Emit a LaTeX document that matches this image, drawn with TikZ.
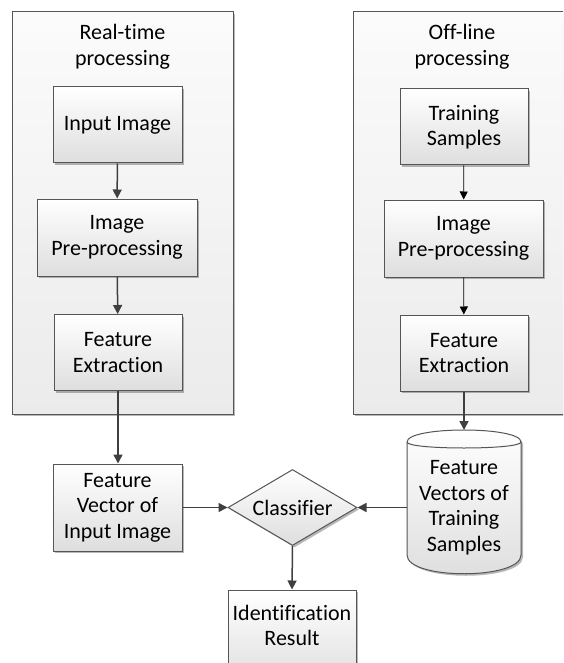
\documentclass[tikz,border=0pt]{standalone}
\usepackage{fontspec}
\setmainfont{Carlito}[Ligatures={NoCommon}]
\usetikzlibrary{arrows.meta,shadows,shapes.geometric}
\definecolor{edgec}{HTML}{555555}
\definecolor{arrc}{HTML}{3F3F3F}
\definecolor{boxbot}{HTML}{DEDEDE}
\definecolor{conttop}{HTML}{FBFBFB}
\definecolor{contbot}{HTML}{EBEBEB}
\begin{document}
\begin{tikzpicture}[x=1pt,y=-1pt,
  every node/.style={font=\fontsize{22}{25.5}\selectfont},
  shad/.style={drop shadow={shadow xshift=2pt,shadow yshift=-2pt,fill=black,opacity=.28}},
  container/.style={draw=edgec,line width=1pt,top color=conttop,bottom color=contbot,shad},
  title/.style={align=center,inner sep=0pt},
  box/.style={draw=edgec,line width=1pt,top color=white,bottom color=boxbot,
    align=center,inner sep=0pt,shad},
  plain/.style={align=center,inner sep=0pt},
  thickarr/.style={draw=arrc,line width=1.5pt,-{Triangle[length=9pt,width=9pt]}},
  thinarr/.style={draw=black,line width=0.8pt,-{Triangle[length=8pt,width=8pt]}},
]
\useasboundingbox (0,0) rectangle (563,663);
\clip (0,0) rectangle (563,663);

% containers
\path[container] (12,12) rectangle (233,414);
\path[container] (353,12) rectangle (580,414);
\node[title] (rtt) at (122.5,47) {Real-time\\processing};
\node[title] (olt) at (462,47) {Off-line\\processing};

% left column
\node[box,minimum width=129pt,minimum height=76pt] (inp) at (117.5,125) {Input Image};
\node[box,minimum width=160pt,minimum height=77pt] (lpre) at (117,237.5) {Image\\Pre-processing};
\node[box,minimum width=128pt,minimum height=76pt] (lfe) at (118,352.5) {Feature\\Extraction};

% right column
\node[box,minimum width=128pt,minimum height=76pt] (ts) at (464,127) {Training\\Samples};
\node[box,minimum width=159pt,minimum height=77pt] (rpre) at (463.5,238.5) {Image\\Pre-processing};
\node[box,minimum width=128pt,minimum height=76pt] (rfe) at (464,353) {Feature\\Extraction};

% bottom part
\node[box,minimum width=129pt,minimum height=87pt] (fv) at (117.5,507.5) {Feature\\Vector of\\Input Image};
\node[draw=edgec,line width=1pt,top color=white,bottom color=boxbot,shape=diamond,
  aspect=1.7,inner sep=0pt,minimum width=129pt,minimum height=76pt,shad] (cls) at (292.5,507.5) {Classifier};
\node[box,minimum width=128pt,minimum height=96pt] (idr) at (292,638) {Identification\\Result\\\mbox{}};

% database cylinder
\path[draw=edgec,line width=1pt,top color=white,bottom color=boxbot,shad]
  (407,442) .. controls (407,426) and (521,426) .. (521,442)
  -- (521,555) .. controls (521,580) and (407,580) .. (407,555) -- cycle;
\draw[edgec,line width=1pt] (407,442) .. controls (407,450) and (521,450) .. (521,442);
\node[plain,minimum width=114pt] (db) at (464,507.5) {Feature\\Vectors of\\Training\\Samples};
\coordinate (dbtop) at (464,430);

% connectors
\draw[thickarr] (inp) -- (lpre);
\draw[thickarr] (lpre) -- (lfe);
\draw[thinarr] (ts) -- (rpre);
\draw[thinarr] (rpre) -- (rfe);
\draw[thickarr] (lfe.south) -- (lfe.south |- fv.north);
\draw[thickarr] (rfe.south) -- (dbtop);
\draw[thickarr] (fv.east) -- (cls.west);
\draw[thickarr] (db.west) -- (cls.east);
\draw[thickarr] (cls.south) -- (idr.north);
\end{tikzpicture}
\end{document}
